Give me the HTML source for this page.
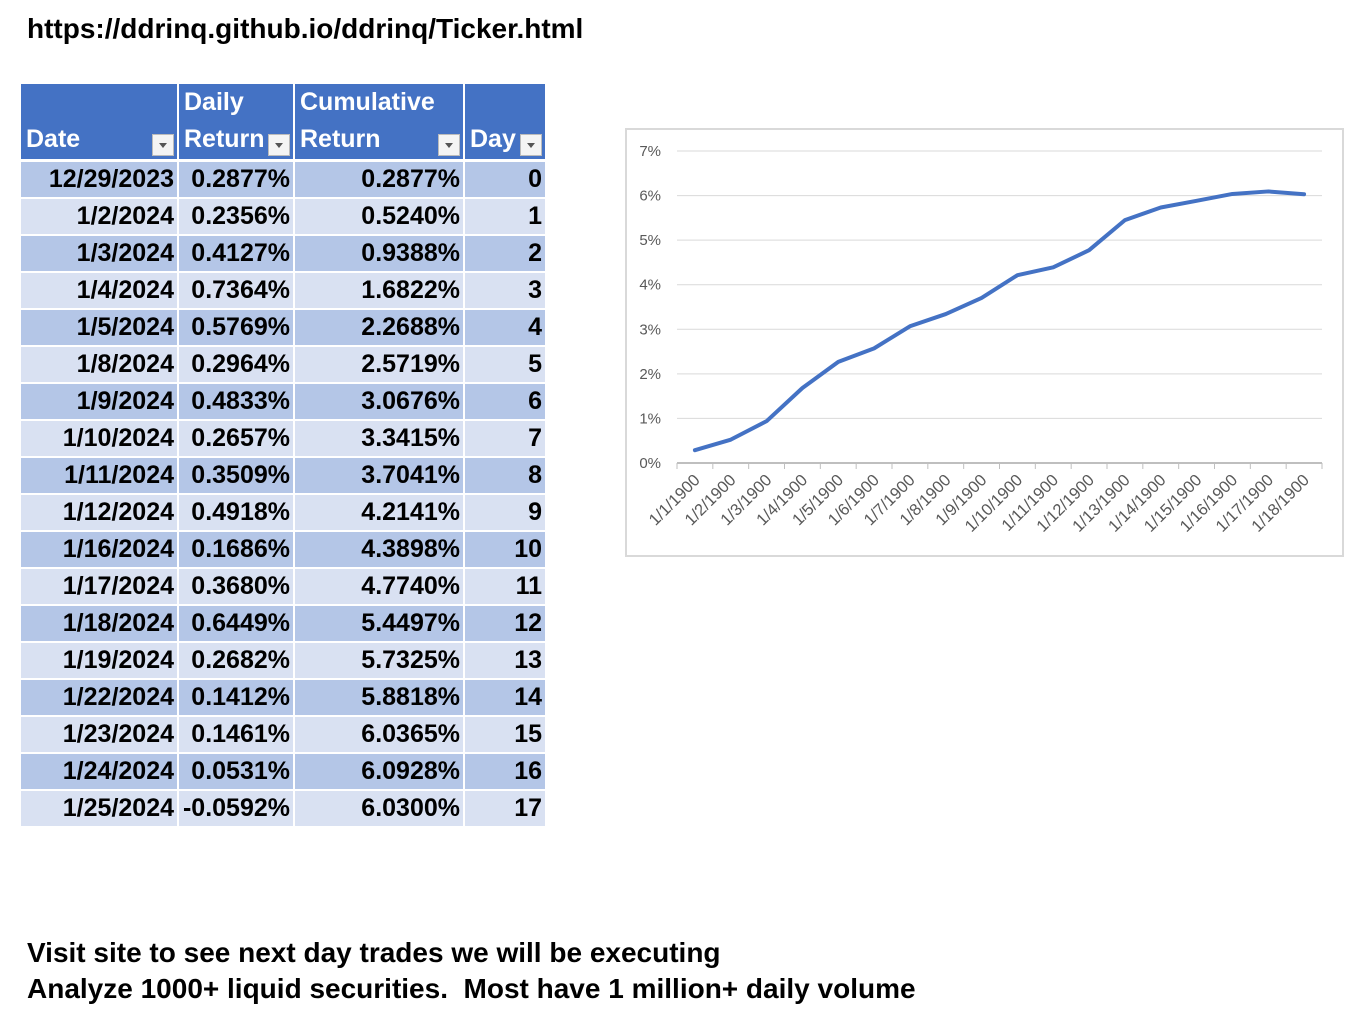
<!DOCTYPE html>
<html><head><meta charset="utf-8">
<style>
body{margin:0;width:1368px;height:1017px;background:#fff;position:relative;overflow:hidden;font-family:"Liberation Sans",sans-serif;}
.t{position:absolute;font-weight:bold;color:#000;}
table{position:absolute;left:21px;top:84px;border-collapse:collapse;table-layout:fixed;width:524px;}
td{height:35px;padding:0 3px;font-weight:bold;font-size:25px;text-align:right;border-right:2px solid #fff;border-bottom:2px solid #fff;white-space:nowrap;line-height:35px;overflow:visible;}
tr.d td{background:#b4c6e7;}
tr.l td{background:#d9e1f2;}
th{background:#4472c4;color:#fff;font-size:25px;text-align:left;vertical-align:bottom;padding:0 4px 1px 5px;height:69px;border-right:2px solid #fff;border-bottom:3px solid #fff;position:relative;line-height:37px;font-weight:bold;white-space:nowrap;}
.dd{position:absolute;right:3px;bottom:3px;width:20px;height:20px;background:#f4f4f4;border:1px solid #bbb;}
.dd:after{content:"";position:absolute;left:6px;top:8px;border-left:4px solid transparent;border-right:4px solid transparent;border-top:5px solid #555;}
</style></head><body>
<div class="t" style="left:27px;top:13px;font-size:28px;">https://ddrinq.github.io/ddrinq/Ticker.html</div>
<table>
<colgroup><col style="width:157px"><col style="width:116px"><col style="width:170px"><col style="width:81px"></colgroup>
<tr>
<th>Date<div class="dd"></div></th>
<th>Daily<br>Return<div class="dd"></div></th>
<th>Cumulative<br>Return<div class="dd"></div></th>
<th style="border-right:none">Day<div class="dd"></div></th>
</tr>
<tbody id="tb"></tbody>
</table>
<svg id="chart" style="position:absolute;left:0;top:0" width="1368" height="1017"></svg>
<div class="t" style="left:27px;top:937px;font-size:28px;">Visit site to see next day trades we will be executing</div>
<div class="t" style="left:27px;top:973px;font-size:28px;">Analyze 1000+ liquid securities.&nbsp; Most have 1 million+ daily volume</div>
<script>
const dates=["12/29/2023","1/2/2024","1/3/2024","1/4/2024","1/5/2024","1/8/2024","1/9/2024","1/10/2024","1/11/2024","1/12/2024","1/16/2024","1/17/2024","1/18/2024","1/19/2024","1/22/2024","1/23/2024","1/24/2024","1/25/2024"];
const daily=["0.2877%","0.2356%","0.4127%","0.7364%","0.5769%","0.2964%","0.4833%","0.2657%","0.3509%","0.4918%","0.1686%","0.3680%","0.6449%","0.2682%","0.1412%","0.1461%","0.0531%","-0.0592%"];
const cumulative=[0.2877,0.5240,0.9388,1.6822,2.2688,2.5719,3.0676,3.3415,3.7041,4.2141,4.3898,4.7740,5.4497,5.7325,5.8818,6.0365,6.0928,6.0300];
const categories=["1/1/1900","1/2/1900","1/3/1900","1/4/1900","1/5/1900","1/6/1900","1/7/1900","1/8/1900","1/9/1900","1/10/1900","1/11/1900","1/12/1900","1/13/1900","1/14/1900","1/15/1900","1/16/1900","1/17/1900","1/18/1900"];
const yTicks=[0,1,2,3,4,5,6,7];
const tb=document.getElementById('tb');
dates.forEach((d,i)=>{
  const tr=document.createElement('tr');
  tr.className=i%2?'l':'d';
  
  
  tr.innerHTML='<td>'+d+'</td><td>'+daily[i]+'</td><td>'+cumulative[i].toFixed(4)+'%</td><td style="border-right:none">'+i+'</td>';
  tb.appendChild(tr);
});
const NS='http://www.w3.org/2000/svg';
const svg=document.getElementById('chart');
function mk(t,a,p){const e=document.createElementNS(NS,t);for(const k in a)e.setAttribute(k,a[k]);(p||svg).appendChild(e);return e;}
const L=677,R=1322,Y0=463,Y7=151;
const y=v=>Y0-(v/7)*(Y0-Y7);
const bw=(R-L)/categories.length;
const x=i=>L+bw*(i+0.5);
const box=mk('rect',{x:626,y:129,width:717,height:427,fill:'#fff',stroke:'#d9d9d9','stroke-width':2});


yTicks.forEach(v=>{
  const g=mk('line',{x1:L,x2:R,y1:y(v),y2:y(v),stroke:v===0?'#bfbfbf':'#d9d9d9','stroke-width':v===0?2:1});
  
  
  const t=mk('text',{x:661,y:y(v)+5,'text-anchor':'end','font-size':15,fill:'#595959','font-family':'Liberation Sans, sans-serif'});
  t.textContent=v+'%';
  
  
});
categories.forEach((c,i)=>{
  const tk=mk('line',{x1:L+bw*i,x2:L+bw*i,y1:Y0,y2:Y0+6,stroke:'#bfbfbf'});
  
  
  const t=mk('text',{x:x(i)+6,y:Y0+18,'text-anchor':'end','font-size':16.5,fill:'#595959','font-family':'Liberation Sans, sans-serif',transform:'rotate(-45 '+(x(i)+6)+' '+(Y0+18)+')'});
  t.textContent=c;
  
  
});
mk('line',{x1:R,x2:R,y1:Y0,y2:Y0+6,stroke:'#bfbfbf'});
const ln=mk('polyline',{points:cumulative.map((v,i)=>x(i)+','+y(v)).join(' '),fill:'none',stroke:'#4472c4','stroke-width':4,'stroke-linejoin':'round','stroke-linecap':'round'});


</script>
</body></html>
